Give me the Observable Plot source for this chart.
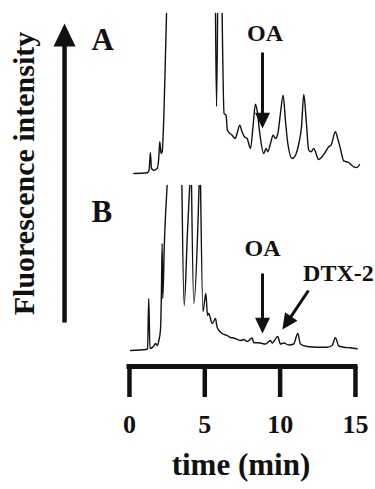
<!DOCTYPE html>
<html><head><meta charset="utf-8">
<script src="https://cdn.jsdelivr.net/npm/d3@7"></script>
<script src="https://cdn.jsdelivr.net/npm/@observablehq/plot@0.6"></script>
<style>
html,body{margin:0;padding:0;background:#fff}
#chart svg{display:block}
</style>
</head><body><div id="chart"></div>
<script>
// ---- data (time in min, relative fluorescence; null = off scale) ----
const timeA = [0.29,1.17,1.30,1.39,1.46,1.61,1.84,1.95,2.01,2.10,2.17,2.28,2.37,2.46,4.0,5.71,5.78,5.85,6.0,6.15,6.28,6.41,6.50,6.81,7.03,7.14,7.32,7.47,7.63,7.81,8.03,8.20,8.36,8.47,8.65,8.91,9.07,9.18,9.36,9.54,9.69,9.85,10.02,10.20,10.35,10.51,10.80,11.02,11.24,11.42,11.57,11.73,11.90,12.06,12.23,12.56,12.78,13.01,13.23,13.38,13.67,13.82,14.00,14.22,14.55,14.88,15.10,15.27];
const signalA = [0,0.7,3.3,20.7,5,3.3,5,16.7,31.7,20,21.7,56.7,106.7,160,null,160,67,160,null,160,60,58.3,43.3,38.3,35,40,48.3,41.7,36.7,35,25,46.7,69.3,63.3,40,20,25,21.7,30,38.3,35,40,60,78.3,53.3,30,15,18.3,30,46.7,79,53.3,23.3,21.7,25,14,16.7,21.7,26.7,28.3,41.7,35,25,12.7,11,6.7,6,9];
const timeB = [0.07,1.10,1.20,1.28,1.36,1.59,1.73,1.84,1.95,2.06,2.12,2.17,2.21,2.32,2.50,3.0,3.48,3.63,3.85,4.00,4.06,4.12,4.27,4.55,4.62,4.67,4.72,4.88,4.98,5.07,5.18,5.26,5.49,5.71,5.82,6.15,6.48,6.70,6.92,7.37,7.59,7.81,8.14,8.25,8.69,9.02,9.36,9.47,9.58,9.84,10.02,10.24,10.57,10.90,11.17,11.35,11.79,12.46,13.12,13.45,13.67,13.89,14.22,14.66,15.11];
const signalB = [1,2,3,53,3,5,8,6,11,22,58,108,53,110,166,null,166,46,120,166,null,166,48,130,166,null,166,40,50,58,36,38,28,33,24,18,16,14,13.5,11,12,10,13.5,9,8.5,7.5,11,8.5,10,15,7.5,8.5,6.5,7.5,18,7.5,5,4.3,4.3,6,13.7,5.5,4.3,3.7,2.7];

const traceNames = ["A", "B"];
const traceOffsets = [178, 0];          // vertical stacking of the two chromatograms
const traceLabelTime = [-2.52, -2.52];
const traceLabelLevel = [124, 130];     // relative to each trace

const tickTimes = [0, 5, 10, 15];
const xLabel = "time (min)";
const yLabel = "Fluorescence intensity";

// peak annotations
const peakNames = ["OA", "OA", "DTX-2"];
const peakTrace = ["A", "B", "B"];
const peakLabelTime = [9.0, 8.83, 13.87];
const peakLabelLevel = [133, 96, 71];
const arrowTailTime = [8.83, 8.83, 11.88];
const arrowTailLevel = [121, 78, 61];
const arrowTipTime = [8.83, 8.83, 10.15];
const arrowTipLevel = [45, 18, 22];
const arrowHeadAngle = [180, 180, 214];

// ---- build tables ----
const offsetOf = name => traceOffsets[traceNames.indexOf(name)];
const lineA = timeA.map((t, i) => ({t, v: signalA[i] == null ? null : signalA[i] + offsetOf("A")}));
const lineB = timeB.map((t, i) => ({t, v: signalB[i] == null ? null : signalB[i] + offsetOf("B")}));
const traceLabels = traceNames.map((n, i) => ({n, t: traceLabelTime[i], v: traceLabelLevel[i] + traceOffsets[i]}));
const peaks = peakNames.map((n, i) => {
  const o = offsetOf(peakTrace[i]);
  return {n, lt: peakLabelTime[i], lv: peakLabelLevel[i] + o,
    t1: arrowTailTime[i], v1: arrowTailLevel[i] + o,
    t2: arrowTipTime[i], v2: arrowTipLevel[i] + o, a: arrowHeadAngle[i]};
});
// big intensity arrow on the left (in the same time / level frame)
const bigArrow = [{t1: -4.31, v1: 29, t2: -4.31, v2: 328}];

function headSymbol(angleDeg) {
  const a = angleDeg * Math.PI / 180, c = Math.cos(a), s = Math.sin(a);
  const rot = ([x, y]) => [x * c - y * s, x * s + y * c];
  return {draw(ctx, size) {
    const r = Math.sqrt(size / Math.PI);
    const L = 2.1 * r, W = 2 * r;
    const p = [[0, 0], [-W / 2, L], [W / 2, L]].map(rot);
    ctx.moveTo(p[0][0], p[0][1]);
    ctx.lineTo(p[1][0], p[1][1]);
    ctx.lineTo(p[2][0], p[2][1]);
    ctx.closePath();
  }};
}

const serif = "'Liberation Serif', 'Times New Roman', Times, serif";
const ink = "#111";

const marks = [
  // chromatograms
  Plot.line(lineA, {x: "t", y: "v", stroke: ink, strokeWidth: 1.4, curve: "monotone-x", strokeLinejoin: "round"}),
  Plot.line(lineB, {x: "t", y: "v", stroke: ink, strokeWidth: 1.4, curve: "monotone-x", strokeLinejoin: "round"}),
  // x axis: thick bar + long ticks
  Plot.ruleY([-15], {x1: 0, x2: 15, stroke: ink, strokeWidth: 5, strokeLinecap: "square"}),
  Plot.axisX(tickTimes, {tickSize: 31, tickPadding: 17, stroke: ink, strokeWidth: 4.5,
    fontSize: 26, fontWeight: "bold", fontFamily: serif, label: null, tickFormat: d => String(d)}),
  Plot.text([xLabel], {x: 7.4, y: -123, text: d => d, fontSize: 31, fontWeight: "bold",
    fontFamily: serif, textAnchor: "middle", lineAnchor: "bottom", fill: ink}),
  // y label with big arrow
  Plot.text([yLabel], {x: -6.97, y: 178, text: d => d, rotate: -90, fontSize: 30, fontWeight: "bold",
    fontFamily: serif, textAnchor: "middle", lineAnchor: "middle", fill: ink}),
  Plot.arrow(bigArrow, {x1: "t1", y1: "v1", x2: "t2", y2: "v2", headLength: 0, insetEnd: 10,
    stroke: ink, strokeWidth: 4.5, strokeLinecap: "butt"}),
  Plot.dot(bigArrow, {x: "t2", y: "v2", r: 11, symbol: headSymbol(0), fill: ink, stroke: "none"}),
  // trace labels
  Plot.text(traceLabels, {x: "t", y: "v", text: "n", fontSize: 31, fontWeight: "bold",
    fontFamily: serif, textAnchor: "start", lineAnchor: "bottom", fill: ink}),
  // peak annotations
  Plot.text(peaks, {x: "lt", y: "lv", text: "n", fontSize: 24, fontWeight: "bold",
    fontFamily: serif, textAnchor: "middle", lineAnchor: "bottom", fill: ink}),
  Plot.arrow(peaks, {x1: "t1", y1: "v1", x2: "t2", y2: "v2", headLength: 0, insetEnd: 7,
    stroke: ink, strokeWidth: 3, strokeLinecap: "butt"}),
  ...peaks.map(p => Plot.dot([p], {x: "t2", y: "v2", r: 7.5, symbol: headSymbol(p.a), fill: ink, stroke: "none"}))
];

const plot = Plot.plot({
  width: 375,
  height: 489,
  marginTop: 0, marginRight: 0, marginBottom: 123, marginLeft: 0,
  style: {background: "#fff", color: ink, fontFamily: serif},
  x: {domain: [-8.56, 16.33]},
  y: {domain: [-15, 351], axis: null},
  marks
});
document.getElementById("chart").appendChild(plot);
</script>
</body></html>
